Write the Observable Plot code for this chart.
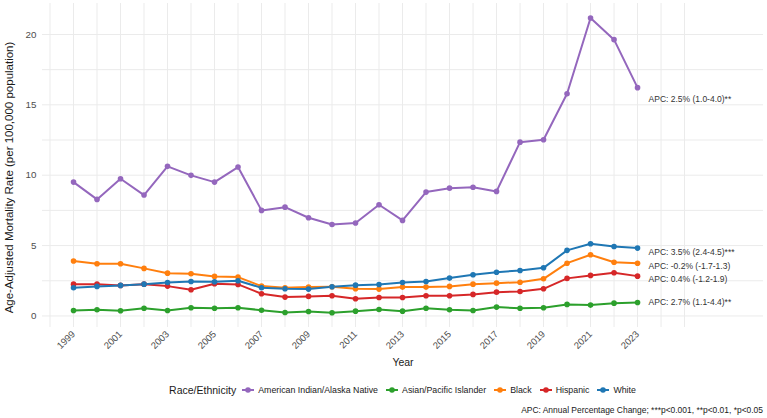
<!DOCTYPE html>
<html>
<head>
<meta charset="utf-8">
<script src="https://cdn.jsdelivr.net/npm/d3@7"></script>
<script src="https://cdn.jsdelivr.net/npm/@observablehq/plot@0.6"></script>
<style>
  html, body { margin: 0; padding: 0; background: #fff; }
  body { font-family: "Liberation Sans", Arial, sans-serif; width: 767px; height: 418px; position: relative; overflow: hidden; }
  #legend { position: absolute; left: 0; width: 767px; top: 383px; height: 14px; display: flex; align-items: center; justify-content: center; padding-left: 46px; box-sizing: border-box; font-size: 8.8px; color: #1a1a1a; white-space: nowrap; }
  #legend .title { font-size: 10.5px; margin-right: 6px; }
  #legend .item { display: flex; align-items: center; margin-right: 8px; }
  #legend svg { margin-right: 4px; }
  #caption { position: absolute; right: 4px; top: 404px; line-height: 12px; font-size: 8.45px; color: #1a1a1a; white-space: nowrap; }
</style>
</head>
<body>
<div id="chart"></div>
<div id="legend"></div>
<div id="caption">APC: Annual Percentage Change; ***p&lt;0.001, **p&lt;0.01, *p&lt;0.05</div>
<script>
// Age-adjusted mortality rate per 100,000 by race/ethnicity, 1999–2023
const years = d3.range(1999, 2024);
const groups = ["American Indian/Alaska Native", "Asian/Pacific Islander", "Black", "Hispanic", "White"];
const colors = ["#9467bd", "#2ca02c", "#ff7f0e", "#d62728", "#1f77b4"];

const aian = [9.51, 8.28, 9.75, 8.59, 10.63, 9.99, 9.51, 10.58, 7.50, 7.73, 6.98, 6.50, 6.60, 7.90, 6.79, 8.80, 9.08, 9.15, 8.85, 12.35, 12.52, 15.79, 21.17, 19.63, 16.22];
const api = [0.39, 0.44, 0.37, 0.55, 0.39, 0.58, 0.55, 0.58, 0.41, 0.25, 0.32, 0.23, 0.34, 0.46, 0.34, 0.55, 0.44, 0.39, 0.63, 0.55, 0.58, 0.82, 0.77, 0.91, 0.96];
const black = [3.90, 3.71, 3.71, 3.38, 3.04, 3.00, 2.81, 2.76, 2.12, 2.00, 2.05, 2.07, 1.93, 1.91, 2.05, 2.05, 2.10, 2.26, 2.33, 2.40, 2.64, 3.75, 4.35, 3.82, 3.75];
const hispanic = [2.26, 2.26, 2.17, 2.26, 2.12, 1.86, 2.29, 2.24, 1.58, 1.34, 1.39, 1.44, 1.22, 1.31, 1.31, 1.44, 1.44, 1.53, 1.69, 1.74, 1.93, 2.67, 2.88, 3.07, 2.83];
const white = [2.00, 2.10, 2.17, 2.26, 2.38, 2.45, 2.43, 2.50, 2.00, 1.93, 1.91, 2.07, 2.19, 2.24, 2.38, 2.45, 2.69, 2.93, 3.11, 3.23, 3.42, 4.66, 5.13, 4.94, 4.82];

// APC annotations beside the 2023 points
const apcText = ["APC: 2.5% (1.0-4.0)**", "APC: 2.7% (1.1-4.4)**", "APC: -0.2% (-1.7-1.3)", "APC: 0.4% (-1.2-1.9)", "APC: 3.5% (2.4-4.5)***"];
const apcY = [15.37, 0.94, 3.52, 2.64, 4.53];

const xTicks = d3.range(1999, 2024, 2);
const yTicks = [0, 5, 10, 15, 20];
const xGrid = d3.range(1998, 2026);
const yGrid = d3.range(0, 20.1, 2.5);

const series = [aian, api, black, hispanic, white];
const rows = groups.flatMap((g, i) => years.map((yr, j) => ({group: g, year: yr, value: series[i][j]})));
const labels = groups.map((g, i) => ({group: g, year: 2023, y: apcY[i], text: apcText[i]}));

const chart = Plot.plot({
  width: 767,
  height: 372,
  marginLeft: 42,
  marginRight: 4,
  marginTop: 3,
  marginBottom: 45,
  style: {fontFamily: "Liberation Sans, Arial, sans-serif", background: "#fff"},
  x: {domain: [1997.68, 2028.36]},
  y: {domain: [-0.82, 22.2]},
  color: {domain: groups, range: colors},
  marks: [
    Plot.ruleX(xGrid, {stroke: "#ebebeb", strokeWidth: 1}),
    Plot.ruleY(yGrid, {stroke: "#ebebeb", strokeWidth: 1}),
    Plot.axisY(yTicks, {tickSize: 0, tickPadding: 6, fontSize: 9.8, color: "#4d4d4d", label: null}),
    Plot.axisX(xTicks, {tickSize: 0, tickRotate: -45, fontSize: 9.5, color: "#4d4d4d", tickPadding: 5, tickFormat: d => String(d), label: null}),
    Plot.text(["Age-Adjusted Mortality Rate (per 100,000 population)"], {frameAnchor: "left", textAnchor: "middle", rotate: -90, dx: -33, dy: 12, fontSize: 11.5, fill: "#1a1a1a"}),
    Plot.text(["Year"], {frameAnchor: "bottom", lineAnchor: "middle", dy: 35, fontSize: 10.5, fill: "#1a1a1a"}),
    Plot.line(rows, {x: "year", y: "value", stroke: "group", z: "group", strokeWidth: 2}),
    Plot.dot(rows, {x: "year", y: "value", fill: "group", r: 2.8}),
    Plot.text(labels, {x: "year", y: "y", text: "text", dx: 11, textAnchor: "start", fontSize: 8.5, fill: "#333"})
  ]
});
document.getElementById("chart").appendChild(chart);

// Legend: line-and-dot key for each group
const legend = document.getElementById("legend");
const title = document.createElement("span");
title.className = "title";
title.textContent = "Race/Ethnicity";
legend.appendChild(title);
groups.forEach((g, i) => {
  const item = document.createElement("span");
  item.className = "item";
  item.innerHTML = `<svg width="12" height="10"><line x1="0" x2="12" y1="5" y2="5" stroke="${colors[i]}" stroke-width="2"/><circle cx="6" cy="5" r="2.8" fill="${colors[i]}"/></svg>`;
  const t = document.createElement("span");
  t.textContent = g;
  item.appendChild(t);
  legend.appendChild(item);
});
</script>
</body>
</html>
